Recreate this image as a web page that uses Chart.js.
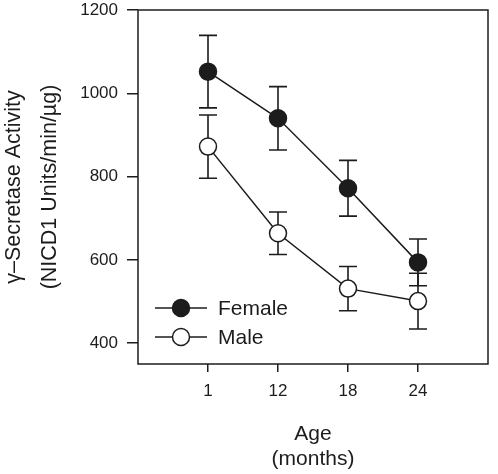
<!DOCTYPE html>
<html>
<head>
<meta charset="utf-8">
<script src="https://cdn.jsdelivr.net/npm/chart.js@4"></script>
<style>
  body { margin: 0; background: #fff; }
  #wrap { width: 498px; height: 474px; position: relative; }
</style>
</head>
<body>
<div id="wrap"><canvas id="secretaseChart"></canvas></div>
<script>
// Data
const ageLabels = ['1', '12', '18', '24'];
const femaleMean = [1052, 940, 772, 594];
const femaleErr = [87, 76, 67, 56];
const maleMean = [872, 664, 531, 501];
const maleErr = [76, 51, 53, 67];
const yTicks = [400, 600, 800, 1000, 1200];

const ink = '#1c1c1c';
const fontFam = "'Liberation Sans', Arial, Helvetica, sans-serif";

function toPoints(vals) {
    return vals.map((v, i) => ({ x: i, y: v }));
}

// error bars, drawn behind the markers
const errorBars = {
    id: 'errorBars',
    beforeDatasetsDraw(chart) {
        const ctx = chart.ctx;
        const xs = chart.scales.x, ys = chart.scales.y;
        const sets = [[femaleMean, femaleErr], [maleMean, maleErr]];
        ctx.save();
        ctx.strokeStyle = ink;
        ctx.lineWidth = 1.6;
        sets.forEach(([mean, err]) => {
            mean.forEach((m, i) => {
                const px = xs.getPixelForValue(i);
                const top = ys.getPixelForValue(m + err[i]);
                const bot = ys.getPixelForValue(m - err[i]);
                ctx.beginPath();
                ctx.moveTo(px, top); ctx.lineTo(px, bot);
                ctx.moveTo(px - 9, top); ctx.lineTo(px + 9, top);
                ctx.moveTo(px - 9, bot); ctx.lineTo(px + 9, bot);
                ctx.stroke();
            });
        });
        ctx.restore();
    }
};

// frame around the plot + legend in lower left
const frameAndLegend = {
    id: 'frameAndLegend',
    afterDraw(chart) {
        const ctx = chart.ctx;
        const a = chart.chartArea;
        ctx.save();
        ctx.strokeStyle = ink;
        ctx.lineWidth = 1.5;
        ctx.strokeRect(a.left, a.top, a.right - a.left, a.bottom - a.top);

        const rows = [
            { label: 'Female', fill: ink, y: 308 },
            { label: 'Male', fill: '#ffffff', y: 337 }
        ];
        ctx.font = '21px ' + fontFam;
        ctx.textBaseline = 'middle';
        rows.forEach(r => {
            ctx.beginPath();
            ctx.lineWidth = 1.5;
            ctx.moveTo(a.left + 17, r.y); ctx.lineTo(a.left + 69, r.y);
            ctx.stroke();
            ctx.beginPath();
            ctx.arc(a.left + 43, r.y, 8.5, 0, Math.PI * 2);
            ctx.fillStyle = r.fill;
            ctx.fill();
            ctx.stroke();
            ctx.fillStyle = ink;
            ctx.fillText(r.label, a.left + 80, r.y + 1);
        });
        ctx.restore();
    }
};

Chart.defaults.font.family = fontFam;
Chart.defaults.color = ink;

const ctx = document.getElementById('secretaseChart').getContext('2d');
new Chart(ctx, {
    type: 'line',
    data: {
        datasets: [
            {
                label: 'Female',
                data: toPoints(femaleMean),
                borderColor: ink,
                borderWidth: 1.5,
                backgroundColor: ink,
                pointRadius: 8.5,
                pointBorderWidth: 1.5,
                pointBorderColor: ink,
                pointBackgroundColor: ink,
                tension: 0
            },
            {
                label: 'Male',
                data: toPoints(maleMean),
                borderColor: ink,
                borderWidth: 1.5,
                backgroundColor: '#ffffff',
                pointRadius: 8.5,
                pointBorderWidth: 1.5,
                pointBorderColor: ink,
                pointBackgroundColor: '#ffffff',
                tension: 0
            }
        ]
    },
    options: {
        responsive: true,
        maintainAspectRatio: false,
        animation: false,
        layout: { padding: { top: 10, right: 4, left: 0, bottom: 2 } },
        plugins: {
            legend: { display: false },
            tooltip: { enabled: false }
        },
        scales: {
            x: {
                type: 'linear',
                min: -1,
                max: 4,
                afterBuildTicks: s => { s.ticks = ageLabels.map((l, i) => ({ value: i })); },
                afterFit: s => { s.height = 108; s.paddingLeft = 0; s.paddingRight = 0; },
                border: { display: false },
                grid: { drawOnChartArea: false, drawTicks: true, tickLength: 8, tickColor: ink, lineWidth: 1.5 },
                ticks: {
                    padding: 9,
                    font: { size: 17 },
                    color: ink,
                    maxRotation: 0,
                    callback: v => ageLabels[v] !== undefined ? ageLabels[v] : ''
                },
                title: {
                    display: true,
                    text: ['Age', '(months)'],
                    font: { size: 21 },
                    color: ink,
                    padding: { top: 0, bottom: 0 }
                }
            },
            y: {
                min: 350,
                max: 1200,
                afterBuildTicks: s => { s.ticks = yTicks.map(v => ({ value: v })); },
                afterFit: s => { s.width = 138; s.paddingTop = 0; s.paddingBottom = 0; },
                border: { display: false },
                grid: { drawOnChartArea: false, drawTicks: true, tickLength: 11, tickColor: ink, lineWidth: 1.5 },
                ticks: {
                    padding: 9,
                    font: { size: 17 },
                    color: ink,
                    callback: v => String(v)
                },
                title: {
                    display: true,
                    text: ['\u03B3\u2013Secretase Activity', '(NICD1 Units/min/\u00B5g)'],
                    font: { size: 21.5, lineHeight: 1.67 },
                    color: ink,
                    padding: { top: -4, bottom: 0 }
                }
            }
        }
    },
    plugins: [errorBars, frameAndLegend]
});
</script>
</body>
</html>
